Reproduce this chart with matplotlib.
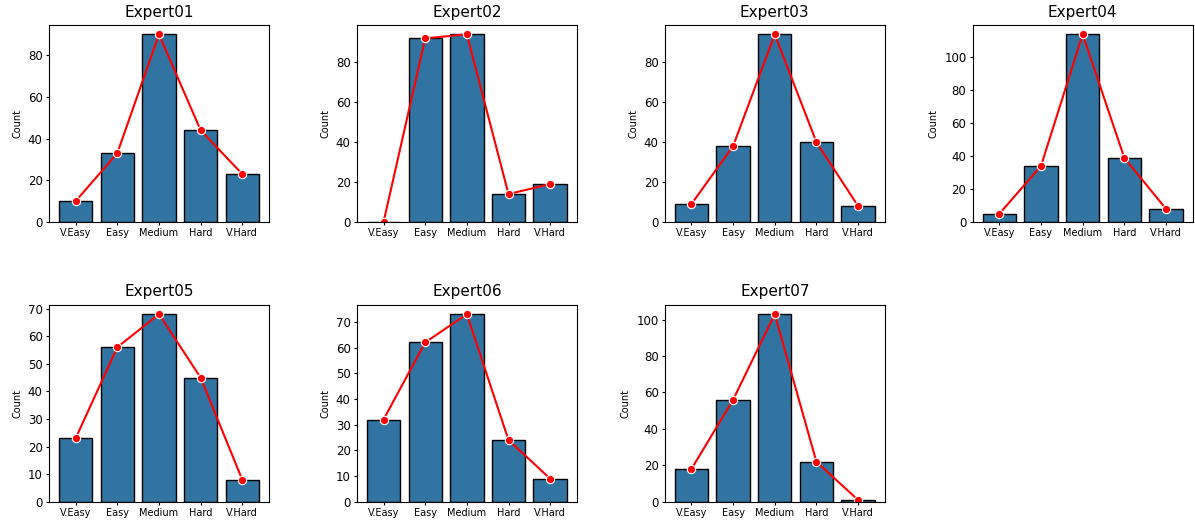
import matplotlib
matplotlib.use("Agg")
import matplotlib.pyplot as plt
import numpy as np

levels = ["V.Easy", "Easy", "Medium", "Hard", "V.Hard"]
experts = ["Expert01", "Expert02", "Expert03", "Expert04", "Expert05", "Expert06", "Expert07"]
e01 = [10, 33, 90, 44, 23]
e02 = [0, 92, 94, 14, 19]
e03 = [9, 38, 94, 40, 8]
e04 = [5, 34, 114, 39, 8]
e05 = [23, 56, 68, 45, 8]
e06 = [32, 62, 73, 24, 9]
e07 = [18, 56, 103, 22, 1]
counts = [e01, e02, e03, e04, e05, e06, e07]

fig, axes = plt.subplots(2, 4, figsize=(11.95, 5.2), dpi=100)
fig.subplots_adjust(left=0.041, right=0.998, top=0.952, bottom=0.035, wspace=0.4, hspace=0.42)
x = np.arange(len(levels))
for ax, name, vals in zip(axes.flat, experts, counts):
    ax.bar(x, vals, width=0.8, color="#3274a1", edgecolor="black", linewidth=1)
    ax.plot(x, vals, "-o", color="red", lw=1.5, ms=6, mec="white", mew=0.8)
    ax.set_xticks(x)
    ax.set_xticklabels(levels, fontsize=7)
    ax.tick_params(axis="y", labelsize=8.5)
    ax.tick_params(length=2.5, pad=2)
    ax.set_ylabel("Count", fontsize=7)
    ax.set_title(name, fontsize=11)
axes.flat[-1].remove()

fig.savefig("out.png", dpi=100)
